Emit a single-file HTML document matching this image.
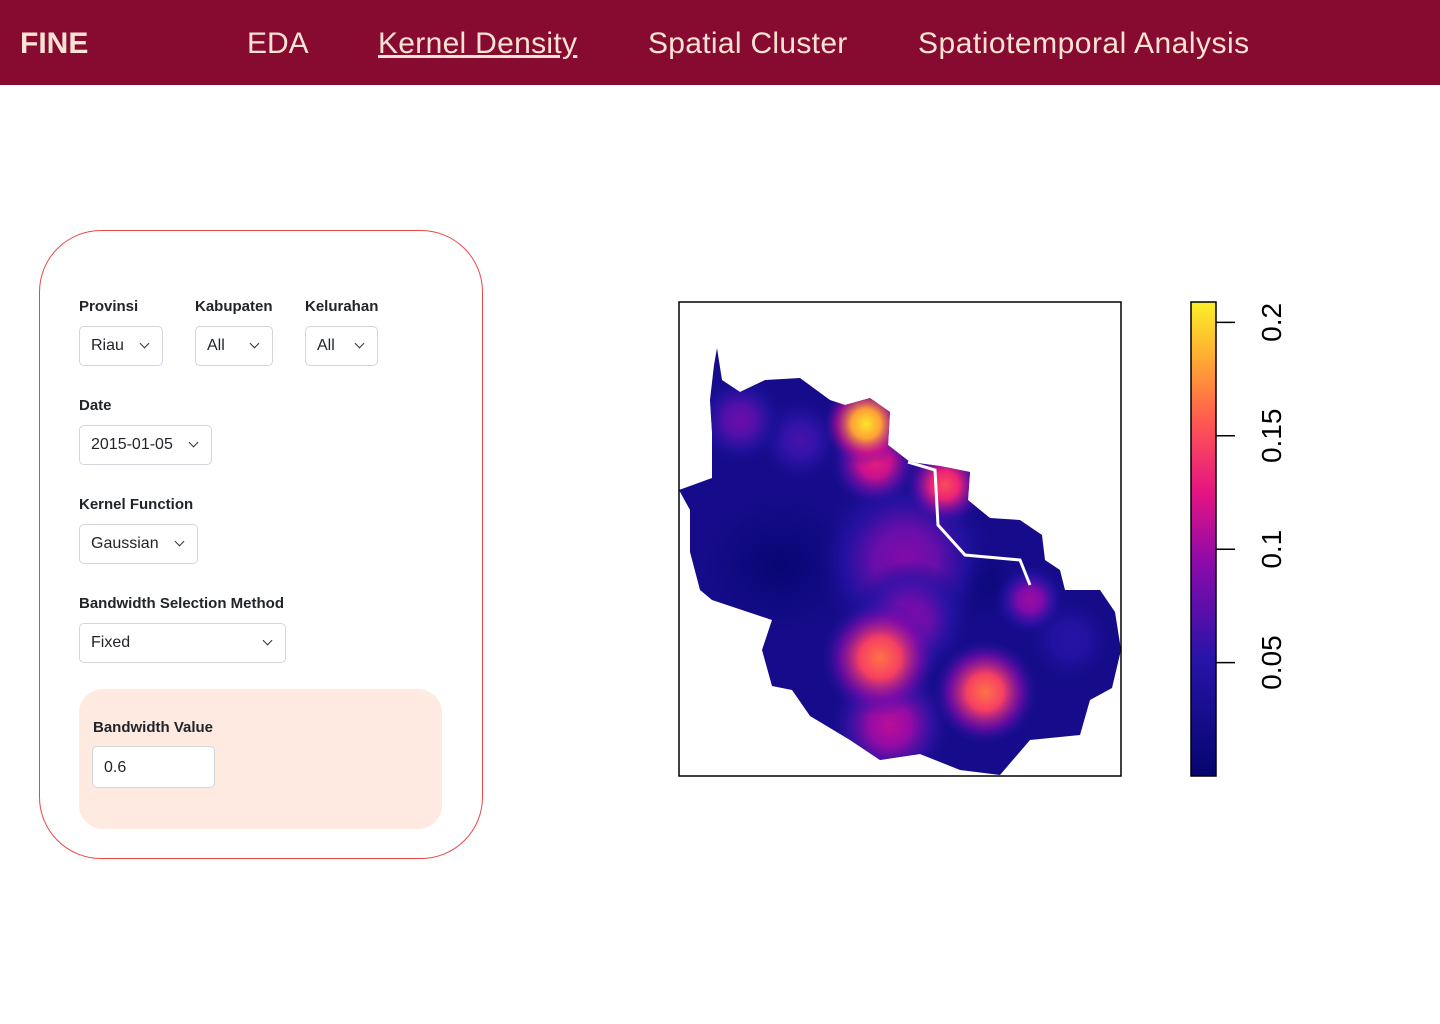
<!DOCTYPE html>
<html><head><meta charset="utf-8"><style>
*{box-sizing:border-box}
body{margin:0;width:1440px;height:1024px;background:#fff;font-family:"Liberation Sans",sans-serif;position:relative;overflow:hidden}
.nav{position:absolute;left:0;top:0;width:1440px;height:85px;background:#870a31}
.nav span{position:absolute;top:27px;font-size:30px;color:#fde3d4;white-space:nowrap}
.card{position:absolute;left:39px;top:230px;width:444px;height:629px;border:1px solid #e84848;border-radius:62px}
.lbl{position:absolute;font-size:15px;font-weight:bold;color:#212529}
.sel{position:absolute;height:40px;border:1px solid #d4d4dc;border-radius:5px;font-size:16px;color:#212529;padding:10px 0 0 11px;background:#fff}
.sel i{position:absolute;right:14px;top:13px;width:7px;height:7px;border-right:1.6px solid #333;border-bottom:1.6px solid #333;transform:rotate(45deg)}
.pink{position:absolute;left:79px;top:689px;width:363px;height:140px;background:#feeae0;border-radius:24px}
</style></head><body>
<div class="nav">
<span style="left:20px;font-weight:bold">FINE</span>
<span style="left:247px">EDA</span>
<span style="left:378px;text-decoration:underline;letter-spacing:0.3px">Kernel Density</span>
<span style="left:648px;letter-spacing:0.3px">Spatial Cluster</span>
<span style="left:918px;letter-spacing:0.5px">Spatiotemporal Analysis</span>
</div>
<div class="card"></div>
<div class="lbl" style="left:79px;top:298px">Provinsi</div>
<div class="sel" style="left:79px;top:326px;width:84px">Riau<i></i></div>
<div class="lbl" style="left:195px;top:298px">Kabupaten</div>
<div class="sel" style="left:195px;top:326px;width:78px">All<i></i></div>
<div class="lbl" style="left:305px;top:298px">Kelurahan</div>
<div class="sel" style="left:305px;top:326px;width:73px">All<i></i></div>
<div class="lbl" style="left:79px;top:397px">Date</div>
<div class="sel" style="left:79px;top:425px;width:133px">2015-01-05<i></i></div>
<div class="lbl" style="left:79px;top:496px">Kernel Function</div>
<div class="sel" style="left:79px;top:524px;width:119px">Gaussian<i></i></div>
<div class="lbl" style="left:79px;top:595px">Bandwidth Selection Method</div>
<div class="sel" style="left:79px;top:623px;width:207px">Fixed<i></i></div>
<div class="pink"></div>
<div class="lbl" style="left:93px;top:719px">Bandwidth Value</div>
<div class="sel" style="left:92px;top:746px;width:123px;height:42px;padding-top:12px">0.6</div>

<svg id="chart" style="position:absolute;left:0;top:0" width="1440" height="1024"></svg>
<script>
const tickValues=[0.05,0.1,0.15,0.2];
const tickLabels=["0.05","0.1","0.15","0.2"];
const hotX=[866,880,985,945,875,905,740,1030,800,890,910,1070];
const hotY=[424,658,692,485,462,560,420,600,440,725,620,640];
const hotDensity=[0.205,0.165,0.165,0.15,0.13,0.09,0.08,0.1,0.065,0.11,0.09,0.05];
const hotRadius=[42,58,52,40,45,90,45,35,45,60,60,50];
const vmax=0.209;
const NS="http://www.w3.org/2000/svg";
const svg=document.getElementById('chart');
function mk(t,a,p){const e=document.createElementNS(NS,t);for(const k in a)e.setAttribute(k,a[k]);(p||svg).appendChild(e);return e;}
const stops=[[0,[5,5,110]],[0.25,[40,20,170]],[0.45,[140,10,170]],[0.6,[230,20,130]],[0.75,[255,90,80]],[0.88,[255,170,50]],[1,[250,240,40]]];
function col(v){let t=Math.max(0,Math.min(1,v/vmax));for(let i=1;i<stops.length;i++){if(t<=stops[i][0]){const a=stops[i-1],b=stops[i];const f=(t-a[0])/(b[0]-a[0]);return 'rgb('+a[1].map((c,j)=>Math.round(c+(b[1][j]-c)*f)).join(',')+')';}}return 'rgb(250,240,40)';}
const cbTop=302,cbBot=776;
function yScale(v){return cbBot-(v/vmax)*(cbBot-cbTop);}
const defs=mk('defs',{});
const lg=mk('linearGradient',{id:'cb',x1:0,y1:1,x2:0,y2:0},defs);
for(let i=0;i<=20;i++){mk('stop',{offset:i/20,'stop-color':col(vmax*i/20)},lg);}
const cp=mk('clipPath',{id:'shape'},defs);
const pts="717,348 722,380 740,392 765,380 800,378 830,400 845,405 870,398 890,412 888,445 910,462 940,466 970,472 968,500 990,518 1020,520 1042,535 1045,560 1060,570 1065,590 1100,590 1115,612 1121,650 1112,688 1090,700 1080,735 1030,740 1000,775 960,770 920,754 880,760 850,740 810,716 792,690 772,686 762,650 772,620 742,610 712,600 700,590 690,552 690,510 679,490 712,478 712,432 710,400 714,365";
mk('polygon',{points:pts},cp);
const g=mk('g',{'clip-path':'url(#shape)'});
mk('rect',{x:679,y:302,width:443,height:474,fill:col(0.025)},g);
const dk=mk('radialGradient',{id:'dark'},defs);
mk('stop',{offset:0,'stop-color':col(0.005),'stop-opacity':1},dk);
mk('stop',{offset:1,'stop-color':col(0.005),'stop-opacity':0},dk);
mk('ellipse',{cx:780,cy:565,rx:80,ry:70,fill:'url(#dark)'},g);
mk('ellipse',{cx:975,cy:580,rx:40,ry:40,fill:'url(#dark)'},g);
const order=hotX.map((_,i)=>i).sort((a,b)=>hotDensity[a]-hotDensity[b]);
order.forEach(i=>{
 const x=hotX[i];
 const rg=mk('radialGradient',{id:'h'+i},defs);
 mk('stop',{offset:0,'stop-color':col(hotDensity[i]),'stop-opacity':1},rg);
 mk('stop',{offset:0.35,'stop-color':col(hotDensity[i]*0.88),'stop-opacity':1},rg);
 mk('stop',{offset:0.7,'stop-color':col(hotDensity[i]*0.55),'stop-opacity':0.7},rg);
 mk('stop',{offset:1,'stop-color':col(hotDensity[i]*0.3),'stop-opacity':0},rg);
 const c=mk('circle',{cx:x,cy:hotY[i],r:hotRadius[i],fill:'url(#h'+i+')'},g);
 
 
});
mk('polyline',{points:"908,462 935,470 938,525 965,555 1020,560 1030,585",fill:'none',stroke:'#fff','stroke-width':3},g);
const box=mk('rect',{x:679,y:302,width:442,height:474,fill:'none',stroke:'#000','stroke-width':1.5});

const cb=mk('rect',{x:1191,y:cbTop,width:25,height:cbBot-cbTop,fill:'url(#cb)',stroke:'#000','stroke-width':1.5});

tickValues.forEach((v,i)=>{
 const y=yScale(v);
 mk('line',{x1:1216,x2:1235,y1:y,y2:y,stroke:'#000','stroke-width':1.5});
 const t=mk('text',{x:1281,y:y,'font-size':28,'text-anchor':'middle',transform:'rotate(-90 1281 '+y+')','font-family':'Liberation Sans, sans-serif'});
 t.textContent=tickLabels[i];
 
 
});
</script>
</body></html>
